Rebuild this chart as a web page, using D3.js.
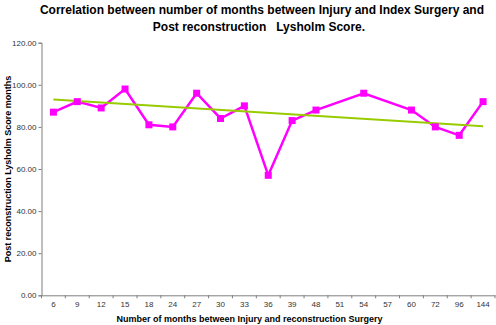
<!DOCTYPE html>
<html><head><meta charset="utf-8">
<script src="https://cdn.jsdelivr.net/npm/d3@7"></script>
<style>body{margin:0;background:#fff}svg{display:block}text{font-family:"Liberation Sans",Arial,Helvetica,sans-serif}</style>
</head><body>
<svg id="c" width="496" height="325"></svg>
<script>
const categories = ["6","9","12","15","18","24","27","30","33","36","39","48","51","54","57","60","72","96","144"];
const scores = [87,92,89,98,81,80,96,84,90,57,83,88,null,96,null,88,80,76,92];
const trendEnds = [93, 80.3];
const yTicks = [0,20,40,60,80,100,120];
const titleLines = ["Correlation between number of months between Injury and Index Surgery and","Post reconstruction   Lysholm Score."];
const xTitle = "Number of months between Injury and reconstruction Surgery";
const yTitle = "Post reconstruction Lysholm Score months";

const svg = d3.select("#c");
const L = 41.5, R = 495, T = 42.7, B = 295.3;
const x = d3.scaleBand().domain(categories).range([L, R]);
const y = d3.scaleLinear().domain([0,120]).range([B, T]);
const axisCol = "#7f7f7f";

// y axis
const ya = svg.append("g").attr("transform",`translate(${L},0)`)
  .call(d3.axisLeft(y).tickValues(yTicks).tickFormat(d3.format(".2f")).tickSize(3).tickPadding(2));
ya.select(".domain").attr("stroke",axisCol);
ya.selectAll(".tick line").attr("stroke",axisCol);
ya.selectAll(".tick text").attr("fill","#333").style("font-size","8px").style("font-family",'"Liberation Sans",Arial,sans-serif');

// x axis
const xa = svg.append("g").attr("transform",`translate(0,${B})`)
  .call(d3.axisBottom(x).tickSize(0).tickPadding(6));
xa.select(".domain").attr("stroke",axisCol);
xa.selectAll(".tick text").attr("fill","#333").style("font-size","8px").style("font-family",'"Liberation Sans",Arial,sans-serif');
const bounds = categories.map(c => x(c)).concat([x(categories[categories.length-1]) + x.bandwidth()]);
xa.selectAll("line.bd").data(bounds).enter().append("line").attr("class","bd")
  .attr("x1",d=>d).attr("x2",d=>d).attr("y1",0).attr("y2",3).attr("stroke",axisCol);

const cx = c => x(c) + x.bandwidth()/2;
const pts = categories.map((c,i)=>({c, v:scores[i]})).filter(d=>d.v!=null);

// data line
svg.append("path").datum(pts)
  .attr("d", d3.line().x(d=>cx(d.c)).y(d=>y(d.v)))
  .attr("fill","none").attr("stroke","#ff00ff").attr("stroke-width",2.5).attr("stroke-linejoin","miter");

// trend line
const first = categories[0], last = categories[categories.length-1];
svg.append("line")
  .attr("x1",cx(first)).attr("y1",y(trendEnds[0]))
  .attr("x2",cx(last)).attr("y2",y(trendEnds[1]))
  .attr("stroke","#99cc00").attr("stroke-width",2);

// markers
const s = 7;
svg.selectAll("rect.m").data(pts).enter().append("rect").attr("class","m")
  .attr("x",d=>cx(d.c)-s/2).attr("y",d=>y(d.v)-s/2).attr("width",s).attr("height",s).attr("fill","#ff00ff");

// titles
svg.append("text").attr("x",262).attr("y",14).attr("text-anchor","middle")
  .style("font-size","12px").style("font-weight","bold").style("white-space","pre").attr("xml:space","preserve").text(titleLines[0]);
svg.append("text").attr("x",259).attr("y",31).attr("text-anchor","middle")
  .style("font-size","12px").style("font-weight","bold").style("white-space","pre").attr("xml:space","preserve").text(titleLines[1]);
svg.append("text").attr("x",249.5).attr("y",322).attr("text-anchor","middle")
  .style("font-size","9px").style("font-weight","bold").text(xTitle);
svg.append("text").attr("transform",`translate(11,${(T+B)/2}) rotate(-90)`).attr("text-anchor","middle")
  .style("font-size","9px").style("font-weight","bold").text(yTitle);
</script>
</body></html>
